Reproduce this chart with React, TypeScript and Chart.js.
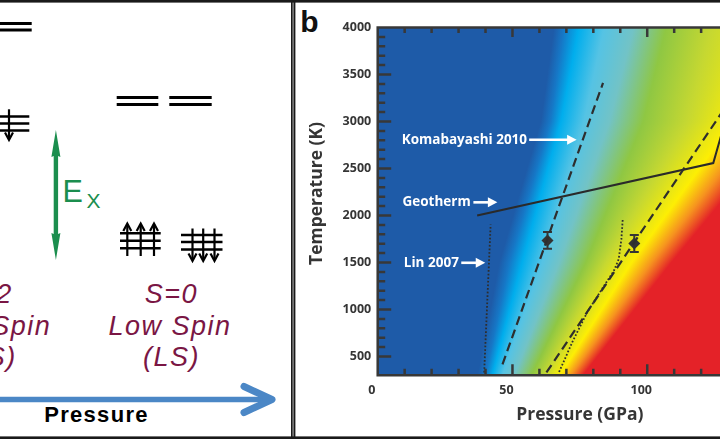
import React, { useEffect, useRef } from 'react';
import { Chart, registerables } from 'chart.js';

Chart.register(...registerables);

// ---------------- data ----------------
const xTickValues = [0, 50, 100];
const xMinorTickValues = [10, 20, 30, 40, 60, 70, 80, 90, 110, 120, 130, 140];
const yTickValues = [500, 1000, 1500, 2000, 2500, 3000, 3500, 4000];
const yMinorTickValues = [
  600, 700, 800, 900, 1100, 1200, 1300, 1400, 1600, 1700, 1800, 1900,
  2100, 2200, 2300, 2400, 2600, 2700, 2800, 2900, 3100, 3200, 3300, 3400,
  3600, 3700, 3800, 3900,
];
const xAxisTitle = 'Pressure (GPa)';
const yAxisTitle = 'Temperature (K)';

// phase boundaries (P in GPa, T in K)
const komabayashiOnset = [
  { x: 46.3, y: 416 },
  { x: 83.6, y: 3410 },
];
const komabayashiEnd = [
  { x: 62.6, y: 330 },
  { x: 128, y: 3110 },
];
const lin2007Onset = [
  { x: 39.5, y: 330 },
  { x: 41.9, y: 1905 },
];
const lin2007End = [
  { x: 67.3, y: 335 },
  { x: 72.2, y: 653 },
  { x: 77.7, y: 970 },
  { x: 83.2, y: 1217 },
  { x: 87.6, y: 1410 },
  { x: 89.4, y: 1534 },
  { x: 90.4, y: 1746 },
  { x: 90.9, y: 1957 },
];
const geotherm = [
  { x: 36.9, y: 2000 },
  { x: 124.5, y: 2558 },
  { x: 127.5, y: 2860 },
];

// measurements with error bars
const measuredP = [63, 95.2];
const measuredT = [1735, 1703];
const measuredTErr = [90, 90];

// annotations
const annotationLabels = ['Komabayashi 2010', 'Geotherm', 'Lin 2007'];
const annotationTextP = [8.9, 9.2, 9.7];
const annotationT = [2806, 2140, 1497];
const arrowFromP = [56.2, 35.5, 31.0];
const arrowToP = [73.8, 44.4, 39.9];

// background colour field: pressure of each colour stop at given temperatures
const heatColors = [
  '#1e5ba8', '#1677c6', '#00aeed', '#55c3e4', '#72c3c6',
  '#8fc743', '#c6d831', '#fdee04', '#f6931f', '#e42228',
];
const isoTemps = [300, 1500, 3000, 4000];
const isoP300 = [37, 40, 42.5, 46.2, 50.7, 57, 62.2, 67.6, 71.7, 76.1];
const isoP1500 = [45.1, 48.8, 53.6, 61, 67.3, 77.2, 84.6, 94.2, 101.6, 109];
const isoP3000 = [60.5, 64, 68, 76.5, 86, 98.5, 115, 132, 142, 152];
const isoP4000 = [65.4, 69, 74.6, 84, 95, 107, 124, 150, 160, 172];

// ---------------- helpers ----------------
const isoTable = [isoP300, isoP1500, isoP3000, isoP4000];
function isoPressure(stop: number, T: number) {
  const k = T <= isoTemps[1] ? 0 : T <= isoTemps[2] ? 1 : 2;
  const t0 = isoTemps[k];
  const t1 = isoTemps[k + 1];
  const f = (T - t0) / (t1 - t0);
  return isoTable[k][stop] + f * (isoTable[k + 1][stop] - isoTable[k][stop]);
}

const FONT = "'Open Sans', 'Noto Sans', sans-serif";
const INK = '#353535';

const heatmapPlugin = {
  id: 'heatmap',
  beforeDatasetsDraw(chart: any) {
    const { ctx, chartArea: a, scales } = chart;
    const xs = scales.x;
    const ys = scales.y;
    ctx.save();
    for (let py = Math.floor(a.top); py < Math.ceil(a.bottom); py++) {
      const T = ys.getValueForPixel(py + 0.5);
      const px = heatColors.map((_, i) => xs.getPixelForValue(isoPressure(i, T)));
      const x0 = px[0];
      const x1 = px[px.length - 1];
      const g = ctx.createLinearGradient(x0, 0, x1, 0);
      let prev = 0;
      px.forEach((p, i) => {
        let o = (p - x0) / (x1 - x0);
        o = Math.min(1, Math.max(prev, o));
        prev = o;
        g.addColorStop(o, heatColors[i]);
      });
      ctx.fillStyle = g;
      const top = Math.max(py, a.top);
      const bot = Math.min(py + 1, a.bottom);
      ctx.fillRect(a.left, top, a.right - a.left, bot - top);
    }
    ctx.restore();
  },
};

const errorBarPlugin = {
  id: 'errorBars',
  beforeDatasetsDraw(chart: any) {
    const { ctx, scales } = chart;
    ctx.save();
    ctx.strokeStyle = INK;
    ctx.lineWidth = 2;
    measuredP.forEach((p, i) => {
      const x = scales.x.getPixelForValue(p);
      const yt = scales.y.getPixelForValue(measuredT[i] + measuredTErr[i]);
      const yb = scales.y.getPixelForValue(measuredT[i] - measuredTErr[i]);
      ctx.beginPath();
      ctx.moveTo(x, yt);
      ctx.lineTo(x, yb);
      ctx.moveTo(x - 4.5, yt);
      ctx.lineTo(x + 4.5, yt);
      ctx.moveTo(x - 4.5, yb);
      ctx.lineTo(x + 4.5, yb);
      ctx.stroke();
    });
    ctx.restore();
  },
};

const frameTicksPlugin = {
  id: 'frameTicks',
  afterDatasetsDraw(chart: any) {
    const { ctx, chartArea: a, scales } = chart;
    const xs = scales.x;
    const ys = scales.y;
    ctx.save();
    ctx.strokeStyle = '#383838';
    ctx.lineWidth = 2.5;
    ctx.beginPath();
    ctx.moveTo(a.left, a.top - 1.25);
    ctx.lineTo(a.left, a.bottom + 1.25);
    ctx.moveTo(a.left - 1.25, a.top);
    ctx.lineTo(a.right, a.top);
    ctx.moveTo(a.left - 1.25, a.bottom);
    ctx.lineTo(a.right, a.bottom);
    xTickValues.forEach((v) => {
      if (v === xs.min) return;
      const p = xs.getPixelForValue(v);
      ctx.moveTo(p, a.bottom);
      ctx.lineTo(p, a.bottom - 11);
      ctx.moveTo(p, a.top);
      ctx.lineTo(p, a.top + 9.5);
    });
    xMinorTickValues.forEach((v) => {
      const p = xs.getPixelForValue(v);
      ctx.moveTo(p, a.bottom);
      ctx.lineTo(p, a.bottom - 6.5);
      ctx.moveTo(p, a.top);
      ctx.lineTo(p, a.top + 5.5);
    });
    yTickValues.forEach((v) => {
      if (v === ys.max) return;
      const p = ys.getPixelForValue(v);
      ctx.moveTo(a.left, p);
      ctx.lineTo(a.left + 13.5, p);
    });
    yMinorTickValues.forEach((v) => {
      const p = ys.getPixelForValue(v);
      ctx.moveTo(a.left, p);
      ctx.lineTo(a.left + 7.5, p);
    });
    ctx.stroke();
    ctx.restore();
  },
};

const annotationPlugin = {
  id: 'annotations',
  afterDatasetsDraw(chart: any) {
    const { ctx, scales } = chart;
    ctx.save();
    ctx.fillStyle = '#ffffff';
    ctx.strokeStyle = '#ffffff';
    ctx.lineWidth = 2.6;
    ctx.font = `bold 13.5px ${FONT}`;
    ctx.textAlign = 'left';
    ctx.textBaseline = 'middle';
    annotationLabels.forEach((label, i) => {
      const y = scales.y.getPixelForValue(annotationT[i]);
      ctx.fillText(label, scales.x.getPixelForValue(annotationTextP[i]), y);
      const xa = scales.x.getPixelForValue(arrowFromP[i]);
      const xb = scales.x.getPixelForValue(arrowToP[i]);
      ctx.beginPath();
      ctx.moveTo(xa, y);
      ctx.lineTo(xb - 7, y);
      ctx.stroke();
      ctx.beginPath();
      ctx.moveTo(xb, y);
      ctx.lineTo(xb - 9.5, y - 5);
      ctx.lineTo(xb - 9.5, y + 5);
      ctx.closePath();
      ctx.fill();
    });
    ctx.restore();
  },
};

const yTitlePlugin = {
  id: 'yTitle',
  afterDraw(chart: any) {
    const { ctx } = chart;
    ctx.save();
    ctx.translate(24, 190.5);
    ctx.rotate(-Math.PI / 2);
    ctx.fillStyle = INK;
    ctx.font = `bold 17.5px ${FONT}`;
    ctx.textAlign = 'center';
    ctx.textBaseline = 'middle';
    ctx.fillText(yAxisTitle, 0, 0);
    ctx.restore();
  },
};

function buildConfig() {
  const lineBase = {
    showLine: true,
    pointRadius: 0,
    borderColor: '#2e2e2e',
    fill: false,
    tension: 0,
  };
  return {
    type: 'scatter',
    data: {
      datasets: [
        { ...lineBase, label: 'Komabayashi 2010 (onset)', data: komabayashiOnset, borderWidth: 2.2, borderDash: [9, 5] },
        { ...lineBase, label: 'Komabayashi 2010 (end)', data: komabayashiEnd, borderWidth: 2.2, borderDash: [9, 5] },
        { ...lineBase, label: 'Lin 2007 (onset)', data: lin2007Onset, borderWidth: 1.8, borderDash: [1.7, 1.9] },
        { ...lineBase, label: 'Lin 2007 (end)', data: lin2007End, borderWidth: 1.8, borderDash: [1.7, 1.9] },
        { ...lineBase, label: 'Geotherm', data: geotherm, borderWidth: 2, borderColor: '#2a2a2a' },
        {
          label: 'Measurements',
          data: measuredP.map((p, i) => ({ x: p, y: measuredT[i] })),
          showLine: false,
          pointStyle: 'rectRot',
          pointRadius: 6,
          pointHoverRadius: 6,
          backgroundColor: '#333333',
          borderColor: '#333333',
          borderWidth: 0,
        },
      ],
    },
    options: {
      animation: false,
      responsive: false,
      events: [],
      layout: { padding: { left: 0, right: 3.8, top: 24.5, bottom: 0 } },
      plugins: { legend: { display: false }, tooltip: { enabled: false } },
      scales: {
        x: {
          type: 'linear',
          min: 0,
          max: 150,
          afterBuildTicks: (s: any) => {
            s.ticks = xTickValues.map((v) => ({ value: v }));
          },
          afterFit: (s: any) => {
            s.height = 60.7;
          },
          grid: { display: false, drawTicks: false },
          border: { display: false },
          ticks: {
            padding: 8,
            labelOffset: -6,
            maxRotation: 0,
            autoSkip: false,
            color: INK,
            font: { family: FONT, weight: 'bold', size: 12.5 },
            callback: (v: any) => String(v),
          },
          title: {
            display: true,
            text: xAxisTitle,
            color: INK,
            font: { family: FONT, weight: 'bold', size: 17.5 },
            padding: { top: 0, bottom: 10.5 },
          },
        },
        y: {
          type: 'linear',
          min: 300,
          max: 4000,
          afterBuildTicks: (s: any) => {
            s.ticks = yTickValues.map((v) => ({ value: v }));
          },
          afterFit: (s: any) => {
            s.width = 84.7;
          },
          grid: { display: false, drawTicks: false },
          border: { display: false },
          ticks: {
            padding: 6.5,
            autoSkip: false,
            color: INK,
            font: { family: FONT, weight: 'bold', size: 12.5 },
            callback: (v: any) => String(v),
          },
          title: { display: false },
        },
      },
    },
    plugins: [heatmapPlugin, errorBarPlugin, frameTicksPlugin, annotationPlugin, yTitlePlugin],
  };
}

// ---------------- left panel (schematic) ----------------
const MAROON = '#7a1644';
const GREEN = '#1b8e4e';
const SANS = "'Liberation Sans', Arial, sans-serif";

function Arrow({ x, y1, y2, up }: { x: number; y1: number; y2: number; up: boolean }) {
  // y1 = tail, y2 = tip
  const d = up ? 1 : -1;
  return (
    <g stroke="#000" strokeWidth={2.2} fill="none">
      <line x1={x} y1={y1} x2={x} y2={y2 + d * 1} />
      <polyline points={`${x - 4},${y2 + d * 7.5} ${x},${y2} ${x + 4},${y2 + d * 7.5}`} strokeLinejoin="miter" />
    </g>
  );
}

function LeftPanel() {
  const t2gLeftY = [233.3, 240.7, 248.3];
  const t2gRightY = [235, 242, 249.5];
  const italic = {
    fontFamily: SANS,
    fontStyle: 'italic' as const,
    fontSize: 27,
    letterSpacing: 1.5,
    fill: MAROON,
    textAnchor: 'middle' as const,
  };
  return (
    <g>
      {/* HS e_g (cropped) */}
      <line x1={0} y1={23.5} x2={31.7} y2={23.5} stroke="#000" strokeWidth={3} />
      <line x1={0} y1={30} x2={31.7} y2={30} stroke="#000" strokeWidth={3} />
      {/* HS t2g (cropped) */}
      {[116.5, 123.5, 130.5].map((y) => (
        <line key={y} x1={0} y1={y} x2={29.3} y2={y} stroke="#000" strokeWidth={2.5} />
      ))}
      <Arrow x={9} y1={109.3} y2={140} up={false} />

      {/* LS e_g */}
      {[97.5, 104.5].map((y) => (
        <g key={y}>
          <line x1={116.7} y1={y} x2={158.3} y2={y} stroke="#000" strokeWidth={3} />
          <line x1={169.3} y1={y} x2={211.7} y2={y} stroke="#000" strokeWidth={3} />
        </g>
      ))}
      {/* LS t2g */}
      {t2gLeftY.map((y) => (
        <line key={'l' + y} x1={120} y1={y} x2={160.7} y2={y} stroke="#000" strokeWidth={2.6} />
      ))}
      {[127.3, 140.7, 154].map((x) => (
        <Arrow key={'ua' + x} x={x} y1={256} y2={223.5} up={true} />
      ))}
      {t2gRightY.map((y) => (
        <line key={'r' + y} x1={181} y1={y} x2={222.5} y2={y} stroke="#000" strokeWidth={2.6} />
      ))}
      {[192.5, 203.2, 214.5].map((x) => (
        <Arrow key={'da' + x} x={x} y1={228.5} y2={261} up={false} />
      ))}

      {/* exchange energy arrow */}
      <path
        d="M55.9,130 L60.4,157 L58.1,156 L58.1,234 L60.4,233 L55.9,260 L51.4,233 L53.7,234 L53.7,156 L51.4,157 Z"
        fill={GREEN}
      />
      <text x={62.5} y={202} fontFamily={SANS} fontSize={30.5} fill={GREEN}>E</text>
      <text x={86.5} y={208.3} fontFamily={SANS} fontSize={21} fill={GREEN}>X</text>

      {/* HS labels (cropped at the left edge) */}
      <text x={-14} y={303} {...italic}>S=2</text>
      <text x={-14} y={334.5} {...italic}>High Spin</text>
      <text x={-14} y={366} {...italic}>(HS)</text>
      {/* LS labels */}
      <text x={171.5} y={303} {...italic}>S=0</text>
      <text x={170} y={334.5} {...italic}>Low Spin</text>
      <text x={171.5} y={366} {...italic}>(LS)</text>

      {/* pressure arrow */}
      <line x1={0} y1={399.5} x2={268} y2={399.5} stroke="#4b87c6" strokeWidth={5.6} />
      <polyline
        points="244,386.5 272,399.5 244,412.5"
        fill="none"
        stroke="#4b87c6"
        strokeWidth={7}
        strokeLinecap="round"
        strokeLinejoin="round"
      />
      <text
        x={96.5}
        y={422}
        fontFamily={SANS}
        fontWeight="bold"
        fontSize={22}
        letterSpacing={1.3}
        textAnchor="middle"
        fill="#000"
      >
        Pressure
      </text>
    </g>
  );
}

export default function App() {
  const canvasRef = useRef<HTMLCanvasElement>(null);
  useEffect(() => {
    if (!canvasRef.current) return;
    const chart = new Chart(canvasRef.current, buildConfig() as any);
    return () => chart.destroy();
  }, []);
  return (
    <div
      style={{
        position: 'fixed',
        left: 0,
        top: 0,
        width: 720,
        height: 439,
        background: '#ffffff',
        overflow: 'hidden',
      }}
    >
      <svg width={720} height={439} style={{ position: 'absolute', left: 0, top: 0 }}>
        <LeftPanel />
        <rect x={0} y={0} width={720} height={2.6} fill="#1a1a1a" />
        <rect x={0} y={436.4} width={720} height={2.6} fill="#1a1a1a" />
        <rect x={291} y={0} width={1.7} height={439} fill="#1a1a1a" />
        <rect x={293.4} y={0} width={2} height={439} fill="#1a1a1a" />
        <text x={300.3} y={32} fontFamily={SANS} fontWeight="bold" fontSize={30} fill="#111">
          b
        </text>
      </svg>
      <div style={{ position: 'absolute', left: 293, top: 3, width: 427, height: 433, overflow: 'hidden' }}>
        <canvas ref={canvasRef} width={495} height={433} style={{ display: 'block' }} />
      </div>
    </div>
  );
}
